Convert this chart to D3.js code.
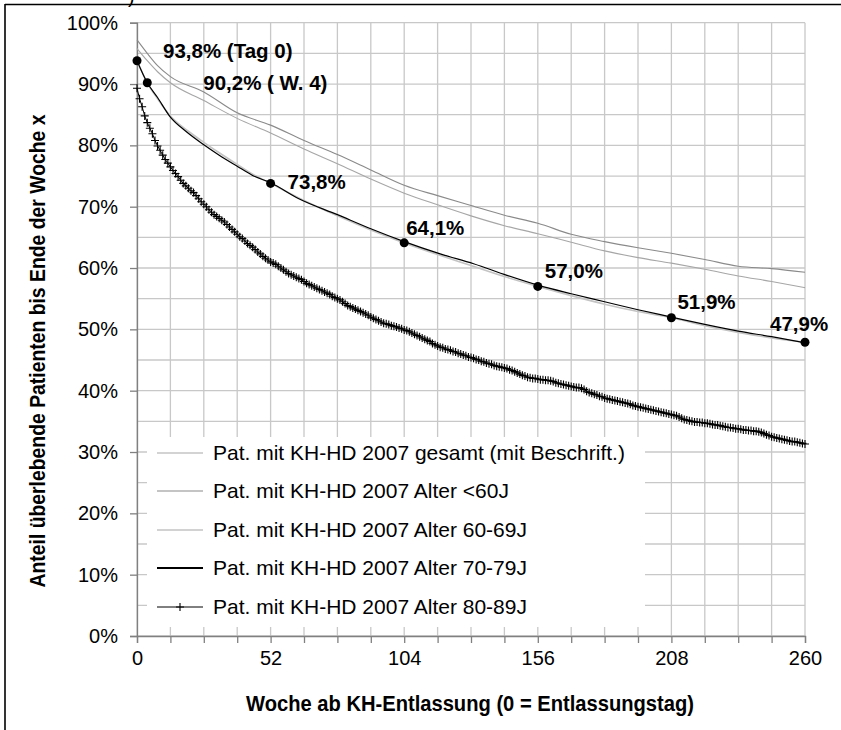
<!DOCTYPE html>
<html><head><meta charset="utf-8">
<script src="https://cdn.jsdelivr.net/npm/d3@7"></script>
<style>
html,body{margin:0;padding:0;background:#fff;}
svg{display:block;}
</style></head>
<body>
<svg id="chart" width="841" height="730"></svg>
<script>
// ---------- DATA ----------
const seriesNames = [
  "Pat. mit KH-HD 2007 gesamt (mit Beschrift.)",
  "Pat. mit KH-HD 2007 Alter <60J",
  "Pat. mit KH-HD 2007 Alter 60-69J",
  "Pat. mit KH-HD 2007 Alter 70-79J",
  "Pat. mit KH-HD 2007 Alter 80-89J"
];
const xTickLabels = [0, 52, 104, 156, 208, 260];
const xGridWeeks = [0,13,26,39,52,65,78,91,104,117,130,143,156,169,182,195,208,221,234,247,260];
const yTickLabels = ["0%","10%","20%","30%","40%","50%","60%","70%","80%","90%","100%"];
const yTickValues = [0,0.1,0.2,0.3,0.4,0.5,0.6,0.7,0.8,0.9,1.0];
const yGridValues = [0,0.05,0.1,0.15,0.2,0.25,0.3,0.35,0.4,0.45,0.5,0.55,0.6,0.65,0.7,0.75,0.8,0.85,0.9,0.95,1.0];

const weeksGesamt = [0,4,8,13,20,26,32,39,45,52,65,78,91,104,117,130,143,156,169,182,195,208,221,234,247,260];
const valGesamt   = [93.8,90.2,87.6,84.8,82.3,80.5,78.8,76.9,75.3,73.8,71.0,68.5,66.2,64.1,62.2,60.4,58.6,57.0,55.5,54.1,52.9,51.9,50.6,49.5,48.6,47.9];

const weeksYoung = [0,4,8,13,26,39,52,65,78,91,104,117,130,143,156,169,182,195,208,221,234,247,260];
const valUnder60 = [97.2,95.0,93.0,91.2,88.7,85.3,83.3,80.8,78.5,76.0,73.5,71.8,70.2,68.6,67.3,65.5,64.3,63.3,62.4,61.4,60.3,59.9,59.3];
const val6069    = [95.8,93.8,92.0,90.2,87.3,84.4,82.0,79.4,77.0,74.5,72.2,70.3,68.5,66.9,65.6,64.2,62.8,61.7,60.8,59.8,58.7,57.8,56.8];

const weeks7079 = [0,4,8,13,19,26,32,39,45,52,63,78,91,104,118,131,144,156,169,182,195,208,221,234,247,260];
const val7079   = [93.8,90.2,87.8,84.6,82.3,80.1,78.4,76.6,75.1,73.9,71.3,68.7,66.4,64.3,62.3,60.7,58.8,57.2,55.8,54.5,53.2,52.0,50.8,49.7,48.8,47.8];

// 80-89J: one value per week, week 0..260
const val8089 = [
89.3,87.6,86.3,84.8,83.7,82.8,81.9,80.8,79.9,79.2,78.4,77.7,77.1,76.5,75.9,75.4,74.9,74.3,73.8,73.4,
73.0,72.6,72.3,71.8,71.3,70.8,70.4,70.0,69.5,69.1,68.7,68.4,68.1,67.8,67.5,67.1,66.7,66.3,65.9,65.5,
65.1,64.8,64.4,64.0,63.7,63.4,63.0,62.6,62.3,61.9,61.6,61.3,61.0,60.8,60.6,60.3,60.0,59.7,59.4,59.1,
58.9,58.7,58.5,58.3,58.1,57.8,57.5,57.3,57.1,56.9,56.7,56.5,56.3,56.1,55.9,55.7,55.4,55.2,55.0,54.8,
54.5,54.2,53.9,53.7,53.5,53.3,53.1,52.9,52.7,52.5,52.3,52.0,51.8,51.6,51.4,51.2,51.0,50.9,50.8,50.6,
50.5,50.4,50.2,50.1,49.9,49.8,49.6,49.4,49.2,49.0,48.8,48.6,48.4,48.2,48.0,47.7,47.5,47.3,47.1,47.0,
46.8,46.7,46.6,46.4,46.3,46.1,46.0,45.8,45.7,45.5,45.4,45.3,45.1,45.0,44.8,44.7,44.5,44.4,44.3,44.1,
44.0,43.9,43.8,43.7,43.6,43.4,43.3,43.1,42.9,42.7,42.5,42.4,42.2,42.1,42.0,42.0,41.9,41.8,41.8,41.7,
41.7,41.6,41.5,41.3,41.2,41.1,41.0,40.9,40.8,40.7,40.6,40.5,40.5,40.4,40.2,39.9,39.7,39.6,39.4,39.3,
39.1,39.0,38.8,38.7,38.6,38.5,38.4,38.3,38.2,38.1,38.0,37.9,37.8,37.6,37.5,37.4,37.3,37.2,37.1,37.0,
36.9,36.8,36.7,36.6,36.5,36.4,36.3,36.2,36.1,36.0,35.9,35.7,35.5,35.3,35.2,35.1,35.0,34.9,34.9,34.8,
34.8,34.7,34.7,34.6,34.5,34.4,34.4,34.3,34.2,34.1,34.0,34.0,33.9,33.8,33.8,33.7,33.6,33.6,33.5,33.5,
33.4,33.4,33.3,33.2,33.0,32.8,32.7,32.5,32.4,32.3,32.2,32.1,32.0,31.9,31.8,31.7,31.7,31.6,31.5,31.4,
31.3
];

const labelWeeks  = [0, 4, 52, 104, 156, 208, 260];
const labelValues = [93.8, 90.2, 73.8, 64.1, 57.0, 51.9, 47.9];
const labelTexts  = ["93,8% (Tag 0)", "90,2% ( W. 4)", "73,8%", "64,1%", "57,0%", "51,9%", "47,9%"];

// ---------- LAYOUT / STYLE ----------
const labelOffsets = [[26,-3],[56,7],[17,6],[2,-8],[7,-8],[6,-9],[-35,-11]];
const seriesStyles = [
  {stroke:"#c4c4c4", width:1.6},
  {stroke:"#8a8a8a", width:1.1},
  {stroke:"#a6a6a6", width:1.1},
  {stroke:"#000000", width:1.2},
  {stroke:"#000000", width:1.0}
];
const FONT = "'Liberation Sans', Arial, sans-serif";

const svg = d3.select("#chart");
const x = d3.scaleLinear().domain([0, 260]).range([137, 805]);
const y = d3.scaleLinear().domain([0, 1]).range([636, 22.7]);

// frame
svg.append("text").attr("x",128).attr("y",3).attr("font-family",FONT).attr("font-size",20).text(")");
svg.append("line").attr("x1",5).attr("x2",841).attr("y1",4.5).attr("y2",4.5).attr("stroke","#000").attr("stroke-width",1.6);
svg.append("line").attr("x1",5).attr("x2",5).attr("y1",4).attr("y2",730).attr("stroke","#000").attr("stroke-width",1.6);

// grid
const grid = svg.append("g");
grid.selectAll("line.v").data(xGridWeeks).join("line")
  .attr("x1", d=>x(d)).attr("x2", d=>x(d)).attr("y1", y(1)).attr("y2", y(0))
  .attr("stroke","#c8c8c8").attr("stroke-width",1.3);
grid.selectAll("line.h").data(yGridValues).join("line")
  .attr("x1", x(0)).attr("x2", x(260)).attr("y1", d=>y(d)).attr("y2", d=>y(d))
  .attr("stroke","#c8c8c8").attr("stroke-width",1.3);

// axes
const yAxis = d3.axisLeft(y).tickValues(yTickValues).tickFormat((d,i)=>yTickLabels[i]).tickSize(7).tickPadding(12);
const gy = svg.append("g").attr("transform",`translate(${x(0)},0)`).call(yAxis);
gy.select(".domain").attr("stroke","#808080").attr("stroke-width",1.3);
gy.selectAll(".tick line").attr("stroke","#808080").attr("stroke-width",1.3);
gy.selectAll(".tick text").attr("font-family",FONT).attr("font-size",20).attr("fill","#000");

const xAxis = d3.axisBottom(x).tickValues(xGridWeeks).tickFormat(d => xTickLabels.includes(d) ? d : "").tickSize(7).tickPadding(8);
const gx = svg.append("g").attr("transform",`translate(0,${y(0)})`).call(xAxis);
gx.select(".domain").attr("stroke","#808080").attr("stroke-width",1.3);
gx.selectAll(".tick line").attr("stroke","#808080").attr("stroke-width",1.3);
gx.selectAll(".tick text").attr("font-family",FONT).attr("font-size",20).attr("fill","#000");

// axis titles (condensed bold)
svg.append("text").attr("x",470).attr("y",711).attr("text-anchor","middle")
  .attr("font-family",FONT).attr("font-weight","bold").attr("font-size",22)
  .attr("textLength",448).attr("lengthAdjust","spacingAndGlyphs")
  .text("Woche ab KH-Entlassung (0 = Entlassungstag)");
svg.append("text").attr("transform","translate(45,351) rotate(-90)").attr("text-anchor","middle")
  .attr("font-family",FONT).attr("font-weight","bold").attr("font-size",22)
  .attr("textLength",473).attr("lengthAdjust","spacingAndGlyphs")
  .text("Anteil überlebende Patienten bis Ende der Woche x");

// lines
const lineSmooth = d3.line().x(d=>x(d[0])).y(d=>y(d[1]/100)).curve(d3.curveMonotoneX);
const lineRaw = d3.line().x(d=>x(d[0])).y(d=>y(d[1]/100));
const seriesData = [
  weeksGesamt.map((w,i)=>[w, valGesamt[i]]),
  weeksYoung.map((w,i)=>[w, valUnder60[i]]),
  weeksYoung.map((w,i)=>[w, val6069[i]]),
  weeks7079.map((w,i)=>[w, val7079[i]]),
  val8089.map((v,i)=>[i, v])
];
const drawOrder = [1,2,0,4,3];
drawOrder.forEach(k=>{
  svg.append("path").datum(seriesData[k]).attr("d", k===4 ? lineRaw : lineSmooth).attr("fill","none")
    .attr("stroke",seriesStyles[k].stroke).attr("stroke-width",seriesStyles[k].width)
    .attr("stroke-linejoin","round");
});
// markers on 80-89
const plusPath = "M-4,0H4M0,-4V4";
svg.append("g").selectAll("path").data(seriesData[4]).join("path")
  .attr("d", plusPath)
  .attr("transform", d=>`translate(${x(d[0])},${y(d[1]/100)})`)
  .attr("stroke","#000").attr("stroke-width",1.1).attr("fill","none");

// labeled points
svg.append("g").selectAll("circle").data(labelWeeks).join("circle")
  .attr("cx",(d)=>x(d)).attr("cy",(d,i)=>y(labelValues[i]/100)).attr("r",4.5).attr("fill","#000");
svg.append("g").selectAll("text").data(labelTexts).join("text")
  .attr("x",(d,i)=>x(labelWeeks[i])+labelOffsets[i][0])
  .attr("y",(d,i)=>y(labelValues[i]/100)+labelOffsets[i][1])
  .attr("font-family",FONT).attr("font-weight","bold").attr("font-size",20.5)
  .attr("xml:space","preserve").text(d=>d);

// legend
const lg = svg.append("g");
lg.append("rect").attr("x",147).attr("y",437).attr("width",498).attr("height",190).attr("fill","#fff");
const rowY = [453, 491, 530, 568, 607];
seriesNames.forEach((name,i)=>{
  lg.append("line").attr("x1",157).attr("x2",203).attr("y1",rowY[i]).attr("y2",rowY[i])
    .attr("stroke",seriesStyles[i].stroke).attr("stroke-width", i===3 ? 1.8 : seriesStyles[i].width);
  if(i===4){
    lg.append("path").attr("d",plusPath).attr("transform",`translate(180,${rowY[i]})`)
      .attr("stroke","#000").attr("stroke-width",1.1);
  }
  lg.append("text").attr("x",213).attr("y",rowY[i]+7).attr("font-family",FONT).attr("font-size",21)
    .attr("fill","#000").text(name);
});
</script>
</body></html>
